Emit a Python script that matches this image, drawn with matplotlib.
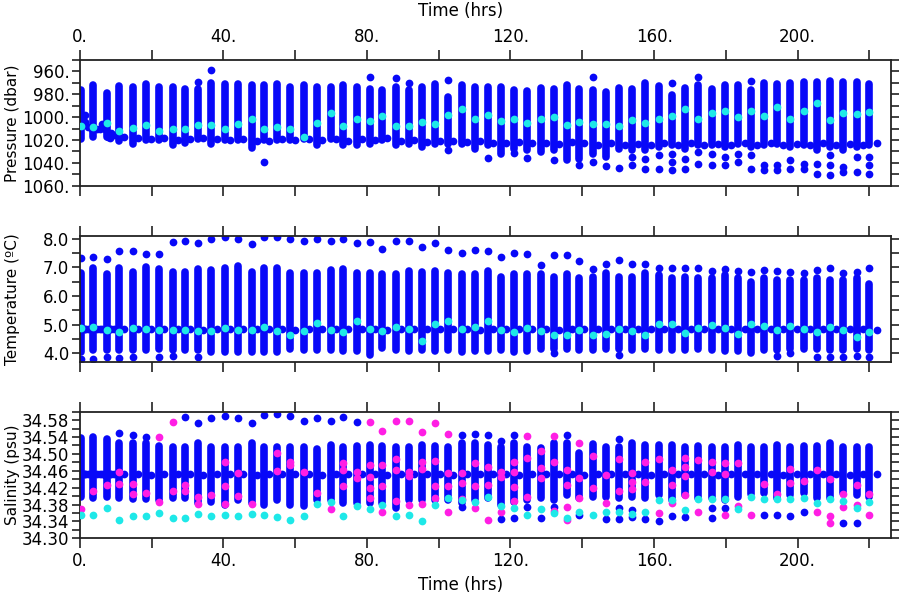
import matplotlib
matplotlib.use("Agg")
import matplotlib.pyplot as plt
from matplotlib.ticker import MultipleLocator, FixedLocator, FuncFormatter

# --- данные ------------------------------------------------------------
# время профилей, ч
times = [0.4, 3.8, 7.5, 11.0, 14.8, 18.5, 22.2, 25.9, 29.4, 33.0,
         36.7, 40.4, 44.1, 47.9, 51.4, 55.0, 58.7, 62.4, 66.1, 69.9,
         73.4, 77.1, 80.8, 84.3, 88.0, 91.7, 95.3, 99.0, 102.7, 106.4,
         110.0, 113.7, 117.4, 121.0, 124.7, 128.4, 132.0, 135.7, 139.2, 142.9,
         146.7, 150.3, 153.9, 157.6, 161.3, 165.0, 168.7, 172.3, 176.0, 179.7,
         183.3, 187.0, 190.5, 194.3, 198.0, 201.7, 205.3, 209.0, 212.7, 216.4,
         220.0]

# давление: верх/низ сплошной колонки, отдельные точки, голубая точка
p_top = [976.3, 971.9, 978.7, 972.8, 974.0, 971.1, 973.4, 974.0, 975.7, 975.7,
         970.5, 971.1, 971.1, 971.9, 971.9, 971.1, 973.4, 971.9, 974.0, 973.4,
         971.9, 973.4, 975.7, 976.3, 973.4, 976.3, 974.0, 971.1, 982.2, 972.2,
         974.0, 974.0, 973.4, 976.3, 976.9, 974.9, 975.7, 971.9, 975.7, 976.3,
         977.8, 974.9, 975.7, 970.5, 972.8, 980.7, 974.9, 971.9, 975.7, 971.9,
         971.9, 976.3, 970.5, 971.1, 970.5, 969.6, 969.0, 968.1, 969.6, 969.0,
         971.1]
p_bot = [1018.7, 1017.8, 1017.8, 1020.8, 1023.7, 1019.6, 1019.6, 1024.6, 1022.5, 1018.7,
         1023.1, 1020.2, 1020.2, 1026.6, 1019.6, 1020.2, 1019.6, 1018.7, 1024.6, 1018.7,
         1024.6, 1024.6, 1023.7, 1020.2, 1024.6, 1023.1, 1026.0, 1023.7, 1023.1, 1023.7,
         1027.5, 1024.6, 1031.9, 1027.5, 1028.9, 1030.4, 1028.9, 1037.7, 1036.3, 1031.9,
         1034.8, 1027.5, 1028.9, 1028.9, 1026.0, 1024.6, 1027.5, 1024.6, 1024.6, 1026.0,
         1023.1, 1026.0, 1024.6, 1023.1, 1026.0, 1024.6, 1028.9, 1026.0, 1028.9, 1026.0,
         1024.6]
p_extra = [[], [], [], [], [], [], [], [], [], [969.0],
           [958.8], [], [], [], [1039.2], [], [], [], [], [],
           [], [], [965.2], [], [966.1], [969.9], [], [], [967.5, 1028.4], [],
           [], [1035.4], [], [1031.3], [1035.4], [], [1037.7], [], [1042.1], [964.6, 1039.2],
           [1043.0], [1044.1], [1034.8, 1042.1], [1036.3, 1045.0], [1033.3, 1045.0],
           [970.5, 1031.9, 1039.2, 1045.9], [1036.3, 1045.0], [965.2, 1030.4, 1040.6],
           [1031.9, 1042.1], [1034.8, 1042.1],
           [1031.9, 1039.2], [968.1, 1033.3, 1045.0], [1042.1, 1046.5], [1042.1, 1046.5],
           [1037.7, 1045.0], [1040.6, 1045.0], [1040.6, 1050.0], [1033.3, 1042.1, 1050.9],
           [1043.6, 1048.0], [1034.8, 1048.0],
           [1034.8, 1042.1, 1049.4]]
p_cyan = [1007.9, 1008.5, 1005.0, 1012.3, 1009.1, 1007.3, 1012.0, 1010.8, 1010.2, 1007.3,
          1007.3, 1010.2, 1006.1, 1002.0, 1010.8, 1008.5, 1010.8, 1017.3, 1005.0, 996.8,
          1007.9, 1002.0, 1003.2, 999.1, 1007.9, 1007.9, 1004.4, 1005.6, 997.7, 992.7,
          1002.0, 998.3, 1003.2, 1001.2, 1005.0, 1002.0, 999.7, 1007.0, 1004.4, 1005.6,
          1005.6, 1007.6, 1002.6, 1005.0, 1002.0, 999.1, 993.3, 1001.8, 996.2, 994.4,
          999.7, 995.0, 999.1, 990.9, 1001.2, 994.7, 988.0, 1002.6, 996.8, 997.4,
          995.3]

# температура
t_top = [6.79, 6.97, 6.76, 6.99, 6.85, 7.03, 6.95, 6.85, 6.85, 6.95,
         6.91, 6.99, 7.06, 6.85, 6.97, 6.97, 6.79, 6.79, 6.79, 6.91,
         6.95, 6.79, 6.79, 6.76, 6.76, 6.88, 6.85, 6.88, 6.79, 6.76,
         6.76, 6.88, 6.68, 6.76, 6.76, 6.76, 6.68, 6.76, 6.62, 6.68,
         6.79, 6.68, 6.68, 6.79, 6.74, 6.62, 6.68, 6.62, 6.62, 6.74,
         6.62, 6.50, 6.62, 6.56, 6.56, 6.56, 6.62, 6.56, 6.56, 6.62,
         6.41]
t_bot = [4.05, 4.10, 4.10, 4.10, 4.10, 4.10, 4.16, 4.10, 4.10, 4.10,
         4.05, 4.05, 4.05, 4.05, 4.05, 4.05, 4.16, 4.10, 4.10, 4.10,
         4.07, 4.07, 3.93, 4.19, 4.10, 4.07, 4.10, 4.07, 4.10, 4.05,
         4.07, 4.07, 4.10, 4.05, 4.07, 4.16, 4.16, 4.16, 4.10, 4.10,
         4.16, 4.16, 4.10, 4.16, 4.10, 4.10, 4.10, 4.16, 4.10, 4.07,
         4.07, 3.99, 4.10, 4.10, 4.16, 4.16, 4.16, 4.10, 4.10, 4.16,
         4.10]
t_warm = [7.32, 7.38, 7.30, 7.59, 7.56, 7.47, 7.47, 7.88, 7.94, 7.85,
          8.00, 8.05, 8.00, 7.82, 8.07, 8.07, 8.00, 7.94, 7.98, 7.94,
          8.00, 7.85, 7.88, 7.65, 7.91, 7.93, 7.70, 7.85, 7.60, 7.52,
          7.61, 7.58, 7.36, 7.52, 7.46, 7.09, 7.44, 7.44, 7.24, 6.95,
          7.11, 7.26, 7.11, 7.11, 6.97, 6.97, 6.97, 6.99, 6.88, 6.93,
          6.88, 6.83, 6.91, 6.89, 6.83, 6.79, 6.91, 6.99, 6.79, 6.85,
          6.97]
t_extra = [[3.81], [3.81], [3.87], [3.835], [3.86], [], [3.87], [3.91], [], [3.87],
           [], [], [], [], [], [], [], [], [], [],
           [], [], [], [], [], [], [], [], [], [],
           [], [], [], [], [], [], [4.02], [], [], [],
           [], [3.95], [], [], [], [], [], [], [], [],
           [], [], [], [3.89], [3.99], [], [3.87], [3.87], [3.87], [3.89],
           [3.87]]
t_cyan = [4.865, 4.92, 4.81, 4.73, 4.89, 4.83, 4.81, 4.82, 4.82, 4.77,
          4.78, 4.865, 4.795, 4.795, 4.91, 4.78, 4.63, 4.78, 5.04, 4.81,
          4.73, 5.13, 4.84, 4.77, 4.92, 4.84, 4.43, 5.01, 5.12, 4.84,
          4.90, 5.12, 4.795, 4.75, 4.865, 4.77, 4.65, 4.65, 4.81, 4.65,
          4.67, 4.83, 4.77, 4.63, 5.02, 5.01, 4.71, 4.89, 4.98, 4.865,
          4.67, 5.01, 4.95, 4.81, 4.95, 4.83, 4.73, 4.90, 4.81, 4.57,
          4.75]

# солёность
s_top = [34.537, 34.539, 34.535, 34.525, 34.525, 34.525, 34.519, 34.517, 34.517, 34.525,
         34.517, 34.517, 34.517, 34.525, 34.517, 34.517, 34.517, 34.517, 34.511, 34.521,
         34.517, 34.519, 34.521, 34.519, 34.517, 34.517, 34.521, 34.519, 34.517, 34.525,
         34.525, 34.521, 34.517, 34.525, 34.517, 34.513, 34.525, 34.525, 34.502, 34.524,
         34.517, 34.517, 34.525, 34.521, 34.521, 34.521, 34.517, 34.519, 34.517, 34.517,
         34.521, 34.516, 34.516, 34.521, 34.516, 34.519, 34.519, 34.525, 34.517, 34.517,
         34.517]
s_bot = [34.399, 34.395, 34.399, 34.395, 34.393, 34.393, 34.391, 34.395, 34.395, 34.383,
         34.387, 34.379, 34.391, 34.383, 34.379, 34.391, 34.379, 34.377, 34.391, 34.391,
         34.383, 34.383, 34.383, 34.383, 34.371, 34.391, 34.391, 34.391, 34.391, 34.383,
         34.391, 34.395, 34.379, 34.387, 34.391, 34.395, 34.391, 34.403, 34.395, 34.399,
         34.399, 34.395, 34.399, 34.395, 34.403, 34.391, 34.403, 34.395, 34.395, 34.391,
         34.399, 34.405, 34.407, 34.395, 34.403, 34.407, 34.395, 34.395, 34.407, 34.403,
         34.399]
s_blue = [[], [], [], [34.549], [34.545], [34.539], [], [], [34.587], [34.573],
          [34.584], [34.591], [34.584], [34.573], [34.592], [34.595], [34.590], [34.579], [34.584], [34.579],
          [34.588], [34.575], [], [], [], [], [], [], [], [34.545, 34.374],
          [34.547], [34.545], [34.531, 34.345], [34.545, 34.348], [34.375], [34.348], [34.375], [34.545], [34.356], [],
          [34.345], [34.535, 34.371, 34.345], [34.367, 34.350], [34.345], [34.340], [34.352], [34.350], [],
          [34.371, 34.348], [34.371],
          [], [], [34.356], [34.356], [34.353], [34.363], [], [], [34.336], [34.337],
          []]
s_magenta = [[34.369], [34.413], [34.427], [34.458, 34.429], [34.429, 34.405],
             [34.408], [34.539, 34.387], [34.576, 34.411], [34.427, 34.411], [34.399, 34.382],
             [34.403], [34.482, 34.424, 34.382], [34.454, 34.401], [34.382], [],
             [34.503, 34.460], [34.482, 34.474], [34.458], [34.408], [34.369],
             [34.478, 34.462, 34.424], [34.458, 34.442], [34.575, 34.474, 34.446, 34.419, 34.395],
             [34.555, 34.474, 34.424, 34.363], [34.579, 34.487, 34.462, 34.389],
             [34.578, 34.458, 34.448, 34.378], [34.551, 34.482, 34.464, 34.382],
             [34.573, 34.484, 34.423, 34.395], [34.547, 34.454, 34.424, 34.363],
             [34.454, 34.430, 34.393],
             [34.478, 34.424, 34.371], [34.470, 34.427, 34.344], [34.458, 34.446, 34.363],
             [34.482, 34.456, 34.421, 34.389], [34.543, 34.490, 34.399],
             [34.508, 34.466, 34.442], [34.543, 34.482, 34.365], [34.462, 34.427, 34.375, 34.344],
             [34.525, 34.442, 34.395], [34.495, 34.419],
             [34.450, 34.383], [34.487, 34.413], [34.454, 34.434, 34.416], [34.482, 34.434],
             [34.487, 34.359], [34.462, 34.427, 34.383], [34.490, 34.470, 34.448, 34.403],
             [34.486, 34.363], [34.482, 34.458], [34.478, 34.453, 34.356],
             [34.478, 34.377], [34.356], [34.429], [34.404], [34.464, 34.430],
             [34.437], [34.462, 34.363], [34.440, 34.352, 34.336], [34.404, 34.375],
             [34.427, 34.379],
             [34.404, 34.356]]
s_cyan = [34.356, 34.356, 34.373, 34.344, 34.353, 34.353, 34.359, 34.348, 34.349, 34.358,
          34.353, 34.356, 34.354, 34.358, 34.356, 34.350, 34.344, 34.353, 34.382, 34.387,
          34.353, 34.377, 34.370, 34.379, 34.354, 34.356, 34.342, 34.379, 34.395, 34.391,
          34.386, 34.399, 34.377, 34.373, 34.356, 34.370, 34.361, 34.349, 34.363, 34.356,
          34.363, 34.363, 34.358, 34.363, 34.391, 34.391, 34.367, 34.393, 34.393, 34.393,
          34.369, 34.397, 34.393, 34.393, 34.393, 34.395, 34.383, 34.393, 34.389, 34.371,
          34.387]

# прибор на фиксированной глубине: плотный ряд в начале ...
early_t = [0.9, 1.5, 1.5, 2.4, 3.3, 4.7, 5.6, 6.1, 7.0, 8.0, 8.4, 8.7, 9.5]
early_p = [1005.0, 998.2, 1004.1, 1008.5, 1010.0, 1010.0, 1010.0, 1006.4, 1010.0,
           1017.3, 1018.1, 1014.3, 1016.0]
early_temp = [4.85, 4.84, 4.84, 4.86, 4.85, 4.84, 4.85, 4.86, 4.84, 4.83, 4.83, 4.84, 4.85]
early_sal = [34.452, 34.453, 34.453, 34.452, 34.451, 34.452, 34.453, 34.452, 34.451,
             34.452, 34.452, 34.453, 34.452]
# ... и по точке после каждого профиля
fix_t = [12.4, 16.2, 19.9, 23.6, 27.3, 30.8, 34.4, 38.1, 41.8, 45.5,
         49.3, 52.8, 56.4, 60.1, 63.8, 67.5, 71.3, 74.8, 78.5, 82.2,
         85.7, 89.4, 93.1, 96.7, 100.4, 104.1, 107.8, 111.4, 115.1, 118.8,
         122.4, 126.1, 129.8, 133.4, 137.1, 140.6, 144.3, 148.1, 151.8, 155.5,
         159.2, 162.9, 166.6, 170.3, 174.0, 177.7, 181.5, 185.2, 188.6, 192.6,
         196.0, 199.7, 203.4, 207.1, 210.8, 214.6, 218.3, 222.0]
fix_p = [1017.0, 1018.0, 1019.0, 1018.5, 1020.0, 1019.0, 1018.0, 1019.5, 1020.0, 1019.0,
         1020.5, 1021.0, 1019.0, 1020.0, 1019.5, 1020.0, 1019.0, 1020.5, 1019.5, 1020.0,
         1018.5, 1021.0, 1020.0, 1021.5, 1020.5, 1021.0, 1022.0, 1021.0, 1022.5, 1023.0,
         1022.0, 1023.0, 1022.5, 1023.5, 1022.0, 1023.0, 1024.0, 1023.0, 1024.0, 1023.5,
         1024.0, 1023.0, 1024.5, 1023.0, 1024.0, 1023.5, 1024.0, 1023.0, 1024.5, 1023.0,
         1024.0, 1023.5, 1024.0, 1023.0, 1024.5, 1023.5, 1024.0, 1023.0]
fix_temp = [4.85, 4.84, 4.86, 4.83, 4.85, 4.84, 4.82, 4.85, 4.84, 4.86,
            4.83, 4.84, 4.85, 4.82, 4.84, 4.85, 4.83, 4.84, 4.86, 4.84,
            4.82, 4.85, 4.83, 4.84, 4.85, 4.83, 4.84, 4.82, 4.85, 4.84,
            4.83, 4.85, 4.84, 4.82, 4.84, 4.85, 4.83, 4.84, 4.85, 4.83,
            4.84, 4.86, 4.84, 4.83, 4.85, 4.84, 4.83, 4.85, 4.84, 4.83,
            4.84, 4.85, 4.83, 4.84, 4.85, 4.83, 4.84, 4.82]
fix_sal = [34.452, 34.453, 34.451, 34.452, 34.453, 34.452, 34.451, 34.452, 34.453, 34.452,
           34.451, 34.452, 34.452, 34.453, 34.452, 34.451, 34.452, 34.453, 34.452, 34.452,
           34.451, 34.452, 34.453, 34.452, 34.452, 34.451, 34.452, 34.453, 34.452, 34.452,
           34.451, 34.452, 34.453, 34.452, 34.452, 34.451, 34.452, 34.453, 34.452, 34.452,
           34.451, 34.452, 34.453, 34.452, 34.452, 34.451, 34.452, 34.453, 34.452, 34.452,
           34.451, 34.452, 34.453, 34.452, 34.452, 34.451, 34.452, 34.452]

sal_ticks = [34.30, 34.34, 34.38, 34.42, 34.46, 34.50, 34.54, 34.58]

BLUE = "#0808f8"
CYAN = "#1ee8e8"
MAGENTA = "#ff1ee4"
DOT = 31


def flat(lists):
    xs, ys = [], []
    for t, vals in zip(times, lists):
        for v in vals:
            xs.append(t)
            ys.append(v)
    return xs, ys


def draw_profiles(ax, top, bot, extra, early_v, fix_v):
    ax.vlines(times, bot, top, colors=BLUE, lw=5.5, capstyle="round", zorder=2)
    x, y = flat(extra)
    ax.scatter(x, y, s=DOT, c=BLUE, linewidths=0, zorder=2)
    ax.scatter(early_t, early_v, s=DOT, c=BLUE, linewidths=0, zorder=2)
    ax.scatter(fix_t, fix_v, s=DOT, c=BLUE, linewidths=0, zorder=2)


def style(ax, ylim, major, minor, fmt, label):
    ax.set_xlim(0, 226)
    ax.set_ylim(*ylim)
    ax.xaxis.set_major_locator(MultipleLocator(40))
    ax.xaxis.set_minor_locator(MultipleLocator(20))
    ax.xaxis.set_major_formatter(FuncFormatter(lambda v, _: f"{v:.0f}."))
    ax.yaxis.set_major_locator(major)
    ax.yaxis.set_minor_locator(MultipleLocator(minor))
    ax.yaxis.set_major_formatter(FuncFormatter(fmt))
    ax.tick_params(which="both", direction="out", top=True, right=True,
                   width=1.2, labelsize=12, color="#222222")
    ax.tick_params(axis="x", which="both", length=7, pad=3,
                   labelbottom=False, labeltop=False)
    ax.tick_params(axis="y", which="both", length=6, pad=1.5)
    for s in ax.spines.values():
        s.set_linewidth(1.3)
        s.set_color("#222222")
    ax.set_ylabel(label, fontsize=11)
    ax.yaxis.set_label_coords(-0.074, 0.5)


fig = plt.figure(figsize=(9, 6), dpi=100)
axp = fig.add_axes([0.0886, 0.6905, 0.9014, 0.2095])
axt = fig.add_axes([0.0886, 0.3972, 0.9014, 0.2095])
axs = fig.add_axes([0.0886, 0.1028, 0.9014, 0.2110])

# давление
draw_profiles(axp, p_top, p_bot, p_extra, early_p, fix_p)
axp.scatter(times, p_cyan, s=DOT, c=CYAN, linewidths=0, zorder=4)
style(axp, (1060, 950), MultipleLocator(20), 10,
      lambda v, _: f"{v:.0f}.", "Pressure (dbar)")
axp.tick_params(axis="x", labeltop=True)
axp.xaxis.set_label_position("top")
axp.set_xlabel("Time (hrs)", fontsize=12)
axp.xaxis.set_label_coords(0.469, 1.35)

# температура
draw_profiles(axt, t_top, t_bot, t_extra, early_temp, fix_temp)
axt.scatter(times, t_warm, s=DOT, c=BLUE, linewidths=0, zorder=2)
axt.scatter(times, t_cyan, s=DOT, c=CYAN, linewidths=0, zorder=4)
style(axt, (3.7, 8.1), MultipleLocator(1.0), 0.5,
      lambda v, _: f"{v:.1f}", "Temperature (\u00baC)")

# солёность
draw_profiles(axs, s_top, s_bot, s_blue, early_sal, fix_sal)
mx, my = flat(s_magenta)
axs.scatter(mx, my, s=DOT, c=MAGENTA, linewidths=0, zorder=3)
axs.scatter(times, s_cyan, s=DOT, c=CYAN, linewidths=0, zorder=4)
style(axs, (34.30, 34.60), FixedLocator(sal_ticks), 0.02,
      lambda v, _: f"{v:.2f}", "Salinity (psu)")
axs.tick_params(axis="x", labelbottom=True)
axs.set_xlabel("Time (hrs)", fontsize=12)
axs.xaxis.set_label_coords(0.469, -0.30)

fig.savefig("out.png", dpi=100)
